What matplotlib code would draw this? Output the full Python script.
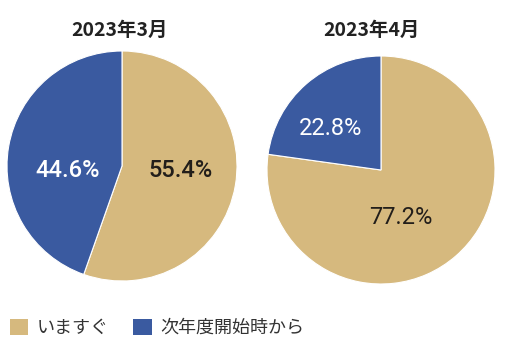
import matplotlib
matplotlib.use("Agg")
import matplotlib.pyplot as plt
from matplotlib.patches import Patch

plt.rcParams['font.family'] = ['Noto Sans CJK JP', 'DejaVu Sans']

# Survey results: when to start
titles = ["2023年3月", "2023年4月"]
categories = ["いますぐ", "次年度開始時から"]
share_march = [55.4, 44.6]
share_april = [77.2, 22.8]
series = [share_march, share_april]

colors = ["#D6B97E", "#3A5AA0"]
label_colors = ["#221e1a", "#ffffff"]

W, H = 512, 349
fig = plt.figure(figsize=(W / 100, H / 100), dpi=100)
fig.patch.set_facecolor("white")

# pie centres and radii in pixels
pies = [dict(cx=122, cy=166, r=115, title_x=120),
        dict(cx=381, cy=170, r=114, title_x=371)]
# label offsets (fraction of radius) for each wedge
label_pos = [[(0.51, -0.04), (-0.47, -0.04)],
             [(0.17, -0.42), (-0.44, 0.36)]]
label_weight = ["medium", "normal"]

for i, (vals, p) in enumerate(zip(series, pies)):
    ax = fig.add_axes([(p["cx"] - p["r"]) / W, (H - p["cy"] - p["r"]) / H,
                       2 * p["r"] / W, 2 * p["r"] / H])
    wedges, texts, autotexts = ax.pie(
        vals, colors=colors, startangle=90, counterclock=False,
        autopct=lambda v: f"{v:.1f}%", pctdistance=0.5,
        wedgeprops=dict(linewidth=0.8, edgecolor="white"))
    ax.set_xlim(-1, 1)
    ax.set_ylim(-1, 1)
    ax.set_aspect("auto")
    for j, t in enumerate(autotexts):
        t.set_position(label_pos[i][j])
        t.set_color(label_colors[j])
        t.set_fontsize(17)
        t.set_fontfamily(["Roboto", "DejaVu Sans"])
        t.set_fontweight(label_weight[i])
    fig.text(p["title_x"] / W, 1 - 30 / H, titles[i], ha="center", va="center",
             fontsize=14, fontweight="bold", color="#222222")

handles = [Patch(facecolor=c, edgecolor="none") for c in colors]
fig.legend(handles, categories, loc="center left",
           bbox_to_anchor=(10 / W, 1 - 328 / H), ncol=2, frameon=False,
           fontsize=13, handlelength=1.0, handleheight=1.0,
           handletextpad=0.5, columnspacing=1.35, borderpad=0,
           borderaxespad=0, labelcolor="#333333")

fig.savefig("out.png", dpi=100)
